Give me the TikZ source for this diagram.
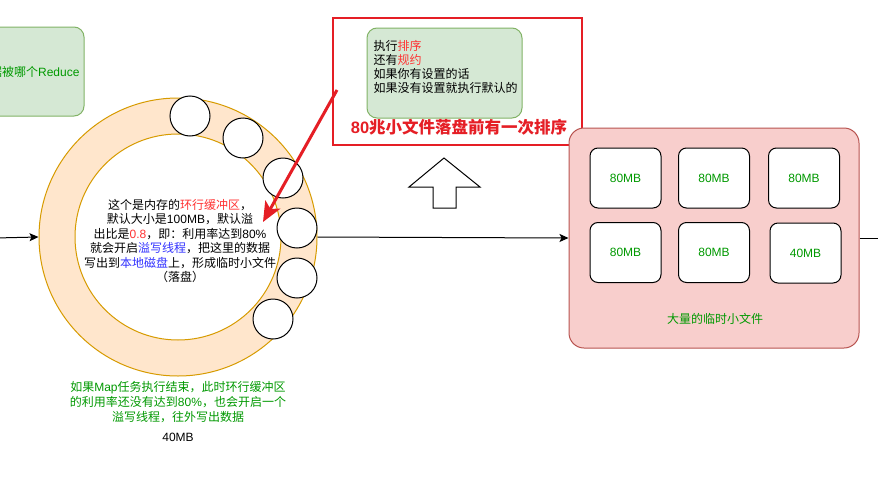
\documentclass[tikz,border=0pt]{standalone}
\usepackage{fontspec}
\setmainfont{Noto Sans CJK SC}
\newfontfamily\lsf{Liberation Sans}
\usetikzlibrary{arrows.meta}
\definecolor{gfill}{HTML}{D5E8D4}
\definecolor{gline}{HTML}{82B366}
\definecolor{ofill}{HTML}{FFE6CC}
\definecolor{oline}{HTML}{D79B00}
\definecolor{pfill}{HTML}{F8CECC}
\definecolor{pline}{HTML}{B85450}
\definecolor{tgreen}{HTML}{009900}
\definecolor{tred}{HTML}{FF3333}
\definecolor{tblue}{HTML}{3333FF}
\definecolor{alarm}{HTML}{E51E25}
\newcommand\ls[1]{{\lsf #1}}
\newcommand\rd[1]{\textcolor{tred}{#1}}
\newcommand\bl[1]{\textcolor{tblue}{#1}}
\begin{document}
\begin{tikzpicture}[x=1pt,y=-1pt,
  every path/.style={line width=1pt},
  txt/.style={font=\fontsize{12}{14.5}\selectfont, inner sep=0pt, align=center},
  greenbox/.style={draw=gline, fill=gfill, rounded corners=10pt, inner sep=0pt},
  smallcirc/.style={draw=black, fill=white, circle, minimum size=40pt, inner sep=0pt},
  filebox/.style={draw=black, fill=white, rounded corners=8pt, minimum width=71pt, minimum height=60pt, inner sep=0pt, text=tgreen, font=\fontsize{12}{14.5}\lsf},
  conn/.style={draw=black, -{Stealth[length=9pt,width=8pt,inset=2pt]}}
]
\useasboundingbox (0,0) rectangle (878,482);
\fill[white] (0,0) rectangle (878,482);

% left green box (partly cut off)
\node[greenbox, minimum width=164pt, minimum height=89pt] (lbox) at (2,71.5) {};
\node[txt, text=tgreen, anchor=east] (ltext) at (80,72) {数据被哪个\ls{Reduce}};

% ring buffer
\node[circle, draw=oline, fill=ofill, minimum size=278pt, inner sep=0pt] (ringout) at (178,237) {};
\node[circle, draw=oline, fill=white, minimum size=206pt, inner sep=0pt] (ringin) at (178,237) {};

% small circles
\node[smallcirc] (c1) at (190,116) {};
\node[smallcirc] (c2) at (243,138) {};
\node[smallcirc] (c3) at (283,178) {};
\node[smallcirc] (c4) at (297,228) {};
\node[smallcirc] (c5) at (297,278) {};
\node[smallcirc] (c6) at (273,319) {};

% center text
\node[txt] (ctext) at (180,241) {这个是内存的\rd{环行缓冲区}，\\
默认大小是\ls{100MB}，默认溢\\
出比是\rd{\ls{0.8}}，即：利用率达到\ls{80\%}\\
就会开启\bl{溢写线程}，把这里的数据\\
写出到\bl{本地磁盘}上，形成临时小文件\\
（落盘）};

% bottom text
\node[txt, text=tgreen, font=\fontsize{12}{15}\selectfont] (btext) at (178,402) {如果\ls{Map}任务执行结束，此时环行缓冲区\\
的利用率还没有达到\ls{80\%}，也会开启一个\\
溢写线程，往外写出数据};
\node[txt, font=\fontsize{12}{14.5}\lsf] (b40) at (178,437) {40MB};

% red frame with green note
\node[draw=alarm, line width=2pt, minimum width=249pt, minimum height=127pt, inner sep=0pt] (redframe) at (457.5,81.5) {};
\node[greenbox, minimum width=155pt, minimum height=90pt] (note) at (444.5,73) {};
\node[txt, align=left, anchor=west, font=\fontsize{12}{14}\selectfont] (notetext) at (373,67) {执行\rd{排序}\\
还有\rd{规约}\\
如果你有设置的话\\
如果没有设置就执行默认的};
\node[txt, text=alarm, font=\fontsize{16.5}{18}\bfseries] (bigtext) at (459,127) {{\lsf\bfseries 80}兆小文件落盘前有一次排序};

% red arrow
\coordinate (rs) at (337,90);
\coordinate (rt) at (263,222);
\draw[alarm, line width=3pt, -{Stealth[length=20pt,width=17pt,inset=5pt]}] (rs) -- (rt);

% hollow up arrow
\draw[black, fill=white] (444,158) -- (480,187) -- (456,187) -- (456,208) -- (433,208) -- (433,187) -- (409,187) -- cycle;

% pink container
\node[draw=pline, fill=pfill, rounded corners=15pt, minimum width=290pt, minimum height=220pt, inner sep=0pt] (pink) at (714,238) {};
\node[filebox] (f1) at (625.5,178) {80MB};
\node[filebox] (f2) at (714,178) {80MB};
\node[filebox] (f3) at (804,178) {80MB};
\node[filebox] (f4) at (625.5,252.5) {80MB};
\node[filebox] (f5) at (714,252.5) {80MB};
\node[filebox] (f6) at (805.5,253) {40MB};
\node[txt, text=tgreen] (plabel) at (715,319) {大量的临时小文件};

% connectors
\coordinate (lin) at (-5,238);
\coordinate (rout) at (885,238);
\draw[conn] (lin) -- (ringout.west);
\draw[conn] (ringout.east) -- (pink.west);
\draw (pink.east) -- (rout);
\end{tikzpicture}
\end{document}
